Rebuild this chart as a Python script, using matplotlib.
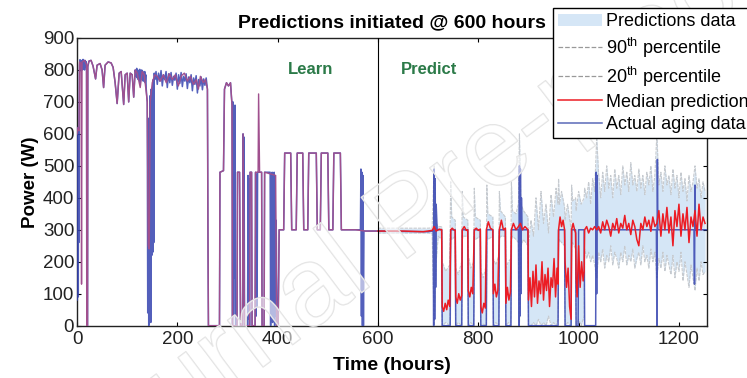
import numpy as np
import matplotlib.pyplot as plt
import matplotlib.patheffects as pe
from matplotlib.patches import Patch
from matplotlib.lines import Line2D

plt.rcParams['font.family'] = ['Liberation Sans', 'DejaVu Sans']
plt.rcParams['mathtext.fontset'] = 'custom'
plt.rcParams['mathtext.rm'] = 'Liberation Sans'

# ---- data (time in hours, power in W) ----
square_wave = [(410, 300), (412, 300), (414, 540), (426, 540), (428, 300), (437, 300),
               (439, 540), (450, 540), (452, 300), (460, 300), (462, 540), (477, 540),
               (479, 300), (485, 300), (487, 540), (500, 540), (502, 300), (510, 300),
               (512, 540), (525, 540), (527, 300), (555, 300)]

fit_learn = [(0, 600), (2, 620), (4, 610), (5, 825), (8, 820), (9, 130), (10, 825), (15, 830),
             (19, 815), (19.5, 0), (21, 0), (21.5, 815), (24, 828), (28, 830), (32, 812),
             (37, 772), (40, 815), (46, 820), (50, 800), (53, 745), (56, 815), (62, 825),
             (68, 822), (72, 808), (76, 760), (80, 695), (84, 790), (88, 795), (93, 692),
             (96, 785), (100, 790), (103, 700), (106, 790), (110, 785), (113, 715), (116, 800),
             (120, 790), (126, 745), (130, 795), (134, 785), (138, 730), (140, 700), (142, 250),
             (144, 240), (146, 700), (150, 760), (155, 785), (160, 780), (166, 765), (172, 785),
             (178, 760), (184, 788), (190, 770), (196, 785), (202, 750), (208, 782), (214, 790),
             (220, 765), (226, 780), (232, 755), (238, 770), (242, 740), (246, 780), (252, 760),
             (256, 770), (260, 740), (261, 300), (262, 0), (284, 0), (285, 480), (292, 485),
             (294, 740), (298, 760), (302, 750), (306, 760), (309, 690), (310, 0), (319, 0),
             (320, 480), (324, 480), (326, 0), (330, 0), (331, 600), (334, 0), (344, 0),
             (345, 480), (348, 480), (349, 0), (355, 0), (356, 480), (361, 480), (362, 725),
             (364, 480), (368, 480), (369, 0), (373, 0), (374, 480), (396, 470), (398, 0),
             (401, 0), (403, 300)]

actual_learn = [(0, 600), (0.5, 80), (1, 620), (1.5, 150), (2, 610), (2.5, 90), (3, 620),
                (3.5, 260), (4, 600), (5, 815), (6, 832), (7, 798), (8, 828), (9, 805), (10, 830),
                (11, 800), (12, 833), (13, 806), (14, 826), (15, 800), (16, 830), (17, 810),
                (18, 826), (19, 800), (19.5, 0), (21, 0), (21.5, 810), (24, 828), (28, 830),
                (32, 812), (37, 772), (40, 815), (46, 820), (50, 800), (53, 745), (56, 815),
                (62, 825), (68, 822), (72, 808), (76, 760), (80, 695), (84, 790), (88, 795),
                (93, 692), (96, 785), (100, 790), (103, 700), (106, 790), (110, 785), (113, 715),
                (116, 800), (118, 780), (119, 805), (120, 775), (121, 800), (122, 770), (123, 798),
                (124, 780), (125, 802), (126, 760), (127, 795), (128, 770), (129, 800), (130, 778),
                (131, 796), (132, 765), (133, 790), (134, 772), (135, 795), (136, 760), (137, 785),
                (138, 740), (140, 700), (141, 40), (142, 560), (143, 0), (144, 650), (145, 80),
                (146, 720), (147, 10), (148, 740), (149, 220), (150, 640), (151, 230), (152, 770),
                (153, 260), (154, 790), (155, 770), (157.5, 795), (160, 755), (162.5, 790),
                (165, 765), (167.5, 798), (170, 750), (172.5, 785), (175, 770), (177.5, 795),
                (180, 745), (182.5, 788), (185, 760), (187.5, 792), (190, 752), (192.5, 780),
                (195, 768), (197.5, 790), (200, 740), (202.5, 785), (205, 758), (207.5, 792),
                (210, 748), (212.5, 780), (215, 765), (217.5, 788), (220, 742), (222.5, 778),
                (225, 760), (227.5, 785), (230, 735), (232.5, 775), (235, 755), (237.5, 782),
                (240, 728), (242.5, 770), (245, 750), (247.5, 778), (250, 738), (252.5, 772),
                (255, 752), (257.5, 775), (260, 740), (261, 300), (262, 0), (284, 0), (285, 480),
                (292, 485), (294, 740), (298, 760), (302, 750), (306, 760), (309, 690), (310, 0),
                (311, 700), (312, 30), (313, 680), (314, 150), (315, 690), (316, 0), (319, 0),
                (320, 480), (324, 480), (326, 0), (330, 0), (331, 600), (332, 50), (333, 590),
                (334, 0), (340, 0), (341, 470), (342, 20), (343, 460), (344, 0), (345, 480),
                (348, 480), (349, 0), (355, 0), (356, 480), (357, 30), (358, 470), (359, 60),
                (360, 480), (368, 480), (369, 0), (373, 0), (374, 480), (385, 480), (386, 0),
                (387, 470), (388, 20), (389, 480), (390, 10), (391, 470), (392, 40), (393, 480),
                (394, 0), (395, 450), (396, 30), (397, 330), (399, 0), (401, 0), (403, 300)]

fit_tail = [(565, 298), (575, 296), (600, 296)]
actual_tail = [(565, 300), (566, 490), (567, 30), (568, 480), (569, 0), (570, 470),
               (571, 0), (572, 296), (600, 296)]

actual_pred = [(650, 295), (700, 294), (708, 296), (710, 300), (711, 0), (712, 490), (713, 20),
               (714, 460), (715, 120), (716, 380), (718, 300), (727, 300), (728, 0), (744, 0),
               (745, 300), (754, 300), (755, 0), (767, 0), (768, 300), (779, 300), (780, 0),
               (791, 0), (792, 300), (804, 300), (805, 0), (816, 0), (817, 300), (829, 300),
               (830, 0), (841, 0), (842, 300), (854, 300), (855, 0), (865, 0), (866, 300),
               (880, 300), (881, 0), (882, 500), (883, 30), (884, 490), (885, 100), (886, 400),
               (887, 300), (899, 300), (900, 0), (959, 0), (960, 300), (972, 300), (973, 0),
               (985, 0), (986, 300), (994, 300), (995, 0), (999, 0), (1000, 300), (1011, 300),
               (1012, 0), (1034, 0), (1035, 480), (1036, 100), (1037, 470), (1038, 300),
               (1155, 300), (1156, 0), (1157, 520), (1158, 300), (1230, 300), (1231, 130),
               (1232, 440), (1233, 300), (1256, 300)]

median_pred = [(600, 296), (650, 296), (690, 294), (708, 298), (712, 310), (716, 296), (722, 302),
               (727, 300), (728, 60), (731, 45), (734, 70), (737, 50), (740, 80), (743, 60),
               (745, 300), (748, 305), (751, 300), (754, 298), (755, 90), (758, 70), (761, 100),
               (764, 80), (767, 95), (768, 300), (772, 310), (776, 298), (779, 300), (780, 110),
               (783, 90), (786, 120), (789, 100), (792, 300), (796, 305), (800, 298), (804, 302),
               (805, 60), (808, 40), (811, 70), (814, 55), (816, 300), (820, 325), (824, 305),
               (829, 300), (830, 100), (833, 130), (836, 90), (839, 110), (842, 300), (846, 330),
               (850, 300), (854, 305), (855, 70), (858, 120), (861, 80), (864, 105), (866, 300),
               (870, 320), (875, 300), (880, 310), (884, 320), (888, 300), (893, 310), (899, 300),
               (900, 80), (903, 150), (906, 60), (909, 170), (912, 90), (915, 190), (918, 70),
               (921, 140), (924, 100), (927, 200), (930, 80), (933, 160), (936, 110), (939, 180),
               (942, 60), (945, 150), (948, 120), (951, 210), (954, 90), (957, 180), (959, 130),
               (960, 300), (963, 340), (966, 310), (969, 330), (972, 300), (973, 200), (976, 120),
               (979, 180), (982, 60), (985, 20), (986, 300), (989, 320), (992, 300), (994, 290),
               (995, 150), (997, 90), (1000, 250), (1003, 120), (1006, 200), (1009, 140),
               (1011, 170), (1012, 300), (1016, 310), (1020, 290), (1024, 305), (1028, 300),
               (1032, 310), (1036, 300), (1040, 310), (1044, 290), (1048, 325), (1052, 300),
               (1056, 330), (1060, 310), (1064, 280), (1068, 320), (1072, 300), (1076, 335),
               (1080, 290), (1084, 320), (1088, 305), (1092, 345), (1096, 300), (1100, 320),
               (1104, 285), (1108, 330), (1112, 310), (1116, 270), (1120, 250), (1124, 320),
               (1128, 300), (1132, 340), (1136, 310), (1140, 330), (1144, 295), (1148, 340),
               (1152, 310), (1156, 320), (1160, 360), (1164, 280), (1168, 350), (1172, 300),
               (1176, 370), (1180, 290), (1184, 340), (1188, 250), (1192, 360), (1196, 310),
               (1200, 380), (1204, 280), (1208, 350), (1212, 300), (1216, 370), (1220, 260),
               (1224, 340), (1228, 310), (1232, 360), (1236, 280), (1240, 380), (1244, 300),
               (1248, 340), (1252, 320)]

# (time, 90th percentile, 20th percentile)
pct_band = [(600, 305, 290), (700, 305, 290), (708, 306, 288), (712, 500, 0), (716, 320, 200),
            (720, 310, 280), (727, 310, 270), (728, 200, 0), (735, 170, 10), (743, 190, 0),
            (745, 450, 280), (747, 340, 270), (754, 330, 280), (755, 180, 0), (760, 160, 10),
            (767, 200, 0), (768, 420, 270), (770, 340, 280), (779, 330, 280), (780, 220, 0),
            (785, 180, 10), (791, 200, 0), (792, 430, 280), (794, 340, 270), (804, 330, 280),
            (805, 170, 0), (810, 150, 5), (816, 190, 0), (817, 440, 280), (819, 350, 270),
            (829, 340, 280), (830, 210, 0), (835, 190, 10), (841, 220, 0), (842, 420, 270),
            (844, 360, 280), (854, 340, 280), (855, 180, 0), (860, 200, 10), (865, 210, 0),
            (866, 450, 270), (868, 360, 280), (875, 350, 270), (880, 380, 260), (882, 600, 0),
            (885, 380, 250), (890, 360, 270), (899, 340, 250), (900, 250, 0), (905, 330, 0),
            (910, 280, 10), (915, 400, 0), (920, 300, 20), (925, 420, 0), (930, 320, 10),
            (935, 380, 0), (940, 290, 30), (945, 410, 0), (950, 340, 10), (955, 430, 0),
            (959, 380, 20), (960, 460, 260), (962, 380, 270), (966, 420, 260), (972, 370, 250),
            (973, 330, 0), (978, 380, 10), (985, 300, 0), (986, 440, 250), (988, 390, 260),
            (994, 400, 240), (995, 360, 0), (1000, 420, 20), (1005, 380, 0), (1011, 400, 30),
            (1012, 430, 240), (1016, 400, 210), (1020, 450, 230), (1024, 380, 200),
            (1028, 460, 220), (1032, 420, 190), (1036, 590, 150), (1040, 470, 230),
            (1044, 400, 200), (1048, 480, 240), (1052, 420, 180), (1056, 500, 220),
            (1060, 430, 200), (1064, 470, 250), (1068, 400, 190), (1072, 490, 230),
            (1076, 430, 210), (1080, 470, 180), (1084, 410, 230), (1088, 500, 200),
            (1092, 440, 250), (1096, 480, 190), (1100, 420, 220), (1104, 510, 200),
            (1108, 440, 240), (1112, 470, 180), (1116, 420, 210), (1120, 490, 230),
            (1124, 430, 190), (1128, 470, 250), (1132, 410, 200), (1136, 480, 220),
            (1140, 440, 180), (1144, 500, 240), (1148, 420, 200), (1152, 470, 230),
            (1156, 600, 150), (1160, 440, 210), (1164, 480, 180), (1168, 420, 230),
            (1172, 500, 170), (1176, 440, 220), (1180, 470, 190), (1184, 410, 160),
            (1188, 490, 220), (1192, 430, 150), (1196, 470, 200), (1200, 400, 170),
            (1204, 480, 230), (1208, 420, 140), (1212, 460, 200), (1216, 390, 160),
            (1220, 470, 120), (1224, 420, 190), (1228, 450, 150), (1232, 500, 110),
            (1236, 430, 180), (1240, 460, 140), (1244, 400, 200), (1248, 450, 160),
            (1252, 420, 170)]

# ---- assemble series ----
fit = np.array(fit_learn + square_wave + fit_tail)
med = np.array(median_pred)
act = np.array(actual_learn + square_wave + actual_tail + actual_pred)
band = np.array(pct_band)

c_band = '#d5e6f6'
c_pct = '#c6cacf'
c_red = '#ec1c24'
c_blue = '#3543b0'
c_fit = '#a0508e'

fig = plt.figure(figsize=(7.47, 3.78), dpi=100)
ax = fig.add_axes([0.1031, 0.1384, 0.8434, 0.7611])

ax.fill_between(band[:, 0], band[:, 2], band[:, 1], color=c_band, lw=0, zorder=1)
ax.plot(band[:, 0], band[:, 1], '--', color=c_pct, lw=0.8, dashes=(3, 1), zorder=2)
ax.plot(band[:, 0], band[:, 2], '--', color=c_pct, lw=0.8, dashes=(3, 1), zorder=2)
ax.plot(act[:, 0], act[:, 1], color=c_blue, lw=1.1, alpha=0.85, zorder=3)
ax.plot(fit[:, 0], fit[:, 1], color=c_fit, lw=1.0, zorder=4)
ax.plot(med[:, 0], med[:, 1], color=c_red, lw=1.1, zorder=4)

ax.axvline(600, color='black', lw=0.8, zorder=5)
ax.text(466, 800, 'Learn', color='#2b7a48', fontsize=12, fontweight='bold',
        ha='center', va='center')
ax.text(702, 800, 'Predict', color='#2b7a48', fontsize=12, fontweight='bold',
        ha='center', va='center')

ax.set_xlim(0, 1256)
ax.set_ylim(0, 900)
ax.set_xticks(range(0, 1201, 200))
ax.set_yticks(range(0, 901, 100))
ax.tick_params(direction='in', top=True, right=True, length=3, labelsize=13.5,
               labelcolor='#222222')
ax.tick_params(axis='x', pad=4)
ax.tick_params(axis='y', pad=2)
for s in ax.spines.values():
    s.set_linewidth(1.0)
    s.set_color('#222222')

ax.set_title('Predictions initiated @ 600 hours', fontsize=14, fontweight='bold', pad=8)
ax.set_xlabel('Time (hours)', fontsize=14, fontweight='bold', labelpad=6)
ax.set_ylabel('Power (W)', fontsize=13.5, fontweight='bold', labelpad=3)

handles = [Patch(facecolor=c_band, edgecolor='none'),
           Line2D([], [], ls='--', color='#999999', lw=0.9),
           Line2D([], [], ls='--', color='#999999', lw=0.9),
           Line2D([], [], color=c_red, lw=1.1),
           Line2D([], [], color='#5a6ab8', lw=1.1)]
labels = ['Predictions data', '90$^{\\mathrm{th}}$ percentile', '20$^{\\mathrm{th}}$ percentile',
          'Median prediction', 'Actual aging data']
leg = fig.legend(handles, labels, loc='upper left', bbox_to_anchor=(553 / 747, 1 - 8 / 378),
                 frameon=True, fancybox=False, edgecolor='black', framealpha=1, fontsize=13,
                 borderaxespad=0, handlelength=2.4, labelspacing=0.28, borderpad=0.3,
                 handletextpad=0.25)
leg.get_frame().set_linewidth(1.0)
leg.set_zorder(10)

wm = fig.text(770 / 747, 1 + 15 / 378, 'Journal Pre-proof', fontsize=80,
              color=(1, 1, 1, 0.35), rotation=37, rotation_mode='anchor', ha='right',
              va='baseline', zorder=6)
wm.set_path_effects([pe.Stroke(linewidth=1.0, foreground='#e2e2e2'), pe.Normal()])

fig.savefig('out.png', dpi=100)
